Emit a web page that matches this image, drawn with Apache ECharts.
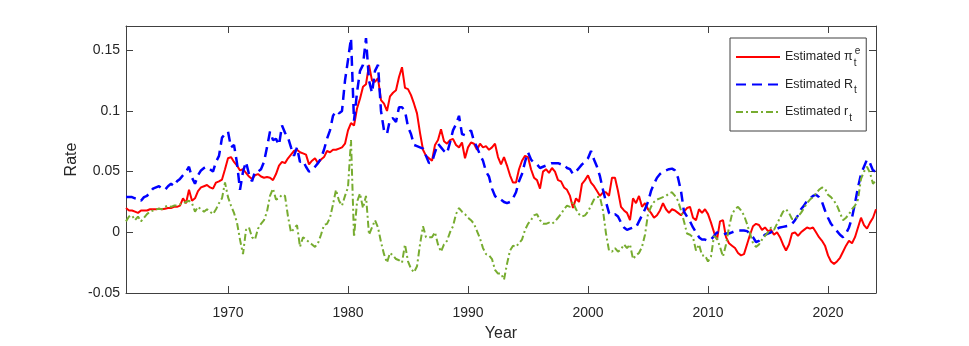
<!DOCTYPE html>
<html>
<head>
<meta charset="utf-8">
<script src="https://cdn.jsdelivr.net/npm/echarts@6/dist/echarts.min.js"></script>
<style>
  html, body { margin: 0; padding: 0; background: #fff; }
  #chart { width: 969px; height: 346px; }
</style>
</head>
<body>
<div id="chart"></div>
<script>
// quarterly samples, 1961.5 .. 2024.0
var startYear = 1961.5
var step = 0.25

// estimated pi_t^e
var inflation = [
    0.020, 0.018,
    0.018, 0.017, 0.016, 0.018,
    0.018, 0.018, 0.019, 0.019,
    0.019, 0.0195, 0.019, 0.0195,
    0.020, 0.020, 0.021, 0.021,
    0.022, 0.028, 0.024, 0.035,
    0.026, 0.028, 0.034, 0.037,
    0.038, 0.039, 0.037, 0.036,
    0.041, 0.042, 0.0435, 0.052,
    0.061, 0.062, 0.058, 0.055,
    0.051, 0.052, 0.049, 0.046,
    0.044, 0.047, 0.048, 0.046,
    0.045, 0.0455, 0.045, 0.043,
    0.048, 0.055, 0.058, 0.057,
    0.061, 0.064, 0.067, 0.068,
    0.066, 0.065, 0.064, 0.056,
    0.059, 0.061, 0.057, 0.060,
    0.062, 0.067, 0.066, 0.068,
    0.068, 0.069, 0.070, 0.073,
    0.084, 0.090, 0.088, 0.102,
    0.110, 0.120, 0.122, 0.138,
    0.125, 0.124, 0.127, 0.109,
    0.106, 0.100, 0.112, 0.115,
    0.117, 0.128, 0.136, 0.119,
    0.118, 0.113, 0.106, 0.098,
    0.082, 0.068, 0.063, 0.061,
    0.059, 0.072, 0.076, 0.085,
    0.075, 0.073, 0.076, 0.077,
    0.072, 0.070, 0.074, 0.061,
    0.070, 0.074, 0.073, 0.068,
    0.073, 0.070, 0.071, 0.068,
    0.070, 0.073, 0.062, 0.056,
    0.062, 0.055, 0.047, 0.041,
    0.041, 0.052, 0.059, 0.063,
    0.062, 0.052, 0.045, 0.043,
    0.036, 0.050, 0.052, 0.049,
    0.053, 0.050, 0.043, 0.042,
    0.037, 0.035, 0.030, 0.020,
    0.028, 0.025, 0.040, 0.043,
    0.047, 0.041, 0.038, 0.034,
    0.030, 0.033, 0.033, 0.030,
    0.045, 0.045, 0.034, 0.021,
    0.018, 0.016, 0.010, 0.028,
    0.024, 0.030, 0.021, 0.024,
    0.019, 0.016, 0.012, 0.014,
    0.018, 0.024, 0.019, 0.016,
    0.019, 0.018, 0.016, 0.014,
    0.017, 0.020, 0.021, 0.012,
    0.010, 0.019, 0.016, 0.019,
    0.015, 0.008, 0.000, -0.006,
    0.009, 0.010, -0.004, -0.009,
    -0.011, -0.013, -0.017, -0.019,
    -0.018, -0.010, -0.002, 0.005,
    0.007, 0.006, 0.002, 0.004,
    0.001, 0.002, -0.002, 0.000,
    -0.004, -0.010, -0.015, -0.010,
    -0.001, 0.000, -0.003, 0.000,
    0.002, 0.004, 0.003, 0.004,
    0.000, -0.004, -0.007, -0.011,
    -0.019, -0.024, -0.026, -0.024,
    -0.021, -0.016, -0.011, -0.007,
    -0.009, -0.004, 0.004, 0.012,
    0.006, 0.003, 0.008, 0.012,
    0.019
]

// estimated R_t
var nominalRate = [
    0.029, 0.029,
    0.029, 0.028, 0.028, 0.026,
    0.029, 0.030, 0.033, 0.036,
    0.037, 0.038, 0.036, 0.035,
    0.038, 0.040, 0.038, 0.042,
    0.044, 0.047, 0.050, 0.054,
    0.045, 0.040, 0.047, 0.051,
    0.053, 0.054, 0.052, 0.050,
    0.058, 0.063, 0.078, 0.081,
    0.083, 0.070, 0.072, 0.057,
    0.035, 0.050, 0.058, 0.048,
    0.042, 0.050, 0.050, 0.052,
    0.058, 0.070, 0.083, 0.076,
    0.077, 0.072, 0.088, 0.082,
    0.078, 0.070, 0.063, 0.070,
    0.058, 0.059, 0.054, 0.050,
    0.051, 0.054, 0.057, 0.061,
    0.068, 0.077, 0.084, 0.096,
    0.100, 0.098, 0.100, 0.125,
    0.142, 0.160, 0.092, 0.115,
    0.133, 0.138, 0.160, 0.125,
    0.115, 0.133, 0.138, 0.100,
    0.084, 0.081, 0.093, 0.094,
    0.091, 0.103, 0.103, 0.100,
    0.087, 0.081, 0.072, 0.071,
    0.070, 0.069, 0.063, 0.057,
    0.058, 0.066, 0.073, 0.070,
    0.067, 0.065, 0.074, 0.084,
    0.089, 0.096, 0.081, 0.080,
    0.082, 0.084, 0.075, 0.070,
    0.064, 0.059, 0.050, 0.046,
    0.036, 0.030, 0.027, 0.027,
    0.025, 0.024, 0.025, 0.028,
    0.033, 0.042, 0.048, 0.058,
    0.066, 0.060, 0.057, 0.056,
    0.053, 0.054, 0.055, 0.056,
    0.057, 0.057, 0.057, 0.056,
    0.056, 0.053, 0.052, 0.048,
    0.050, 0.053, 0.056, 0.058,
    0.061, 0.067, 0.060, 0.054,
    0.046, 0.035, 0.025, 0.016,
    0.014, 0.015, 0.013, 0.008,
    0.004, 0.002, 0.003, 0.004,
    0.004, 0.009, 0.014, 0.019,
    0.025, 0.034, 0.040, 0.045,
    0.048, 0.050, 0.051, 0.052,
    0.0525, 0.051, 0.045, 0.034,
    0.017, 0.013, 0.009, 0.004,
    0.000, -0.004, -0.006, -0.006,
    -0.007, -0.006, -0.003, 0.000,
    -0.001, -0.002, -0.001, -0.001,
    0.000, 0.001, 0.0015, 0.0015,
    0.0015, 0.001, -0.001, -0.004,
    -0.008, -0.007, -0.004, -0.002,
    -0.001, 0.000, 0.002, 0.003,
    0.004, 0.0045, 0.005, 0.0055,
    0.007, 0.010, 0.014, 0.019,
    0.022, 0.026, 0.028, 0.030,
    0.031, 0.029, 0.025, 0.018,
    0.012, 0.007, 0.004, 0.001,
    -0.002, -0.004, -0.001, 0.004,
    0.012, 0.024, 0.037, 0.048,
    0.054, 0.060, 0.057, 0.051,
    0.050
]

// estimated r_t
var realRate = [
    0.009, 0.013,
    0.014, 0.010, 0.013, 0.009,
    0.012, 0.015, 0.017, 0.018,
    0.019, 0.0195, 0.019, 0.021,
    0.022, 0.021, 0.022, 0.022,
    0.023, 0.024, 0.025, 0.026,
    0.024, 0.017, 0.021, 0.019,
    0.017, 0.019, 0.017, 0.015,
    0.019, 0.024, 0.028, 0.041,
    0.029, 0.022, 0.016, 0.008,
    -0.006, -0.018, 0.002, 0.004,
    -0.004, -0.006, 0.003, 0.007,
    0.010, 0.017, 0.030, 0.036,
    0.027, 0.028, 0.031, 0.030,
    0.013, 0.000, 0.003, 0.006,
    -0.012, -0.004, -0.006, -0.008,
    -0.010, -0.012, -0.009, -0.002,
    0.006, 0.007, 0.012, 0.023,
    0.035, 0.026, 0.022, 0.030,
    0.037, 0.076, -0.004, 0.025,
    0.032, 0.020, 0.030, -0.002,
    0.004, 0.010, 0.004, -0.008,
    -0.018, -0.025, -0.017, -0.019,
    -0.022, -0.023, -0.025, -0.010,
    -0.024, -0.030, -0.033, -0.028,
    -0.010, 0.005, -0.004, -0.004,
    -0.004, 0.000, -0.010, -0.016,
    -0.010, -0.007, 0.000, 0.005,
    0.015, 0.020, 0.017, 0.015,
    0.012, 0.010, 0.007, 0.001,
    -0.005, -0.013, -0.018, -0.019,
    -0.022, -0.031, -0.034, -0.034,
    -0.039, -0.026, -0.015, -0.011,
    -0.012, -0.009, -0.006, 0.002,
    0.007, 0.010, 0.014, 0.015,
    0.010, 0.007, 0.007, 0.008,
    0.007, 0.009, 0.012, 0.015,
    0.019, 0.022, 0.021, 0.025,
    0.019, 0.015, 0.013, 0.014,
    0.017, 0.022, 0.027, 0.029,
    0.029, 0.018, -0.001, -0.015,
    -0.016, -0.013, -0.016, -0.014,
    -0.010, -0.013, -0.010, -0.022,
    -0.019, -0.017, -0.012, -0.002,
    0.015, 0.021, 0.025, 0.027,
    0.028, 0.029, 0.030, 0.032,
    0.033, 0.030, 0.026, 0.018,
    0.009, -0.001, -0.002, -0.004,
    -0.015, -0.010, -0.019, -0.019,
    -0.024, -0.020, -0.003, -0.005,
    -0.012, -0.020, -0.010, 0.004,
    0.015, 0.019, 0.021, 0.018,
    0.014, 0.007, -0.001, -0.009,
    -0.012, -0.010, -0.006, -0.003,
    0.000, 0.004, 0.002, 0.007,
    0.012, 0.017, 0.019, 0.016,
    0.011, 0.011, 0.013, 0.016,
    0.020, 0.024, 0.027, 0.029,
    0.032, 0.035, 0.037, 0.036,
    0.031, 0.029, 0.026, 0.022,
    0.016, 0.010, 0.012, 0.015,
    0.019, 0.022, 0.027, 0.044,
    0.050, 0.054, 0.049, 0.040,
    0.043
]

var xTicks = [1970, 1980, 1990, 2000, 2010, 2020]
var yTicks = [-0.05, 0, 0.05, 0.1, 0.15]

var seriesNames = ['Estimated πe', 'Estimated R', 'Estimated r']

function pairs(values) {
    var out = []
    for (var i = 0; i < values.length; i++) {
        out.push([startYear + i * step, values[i]])
    }
    return out
}

var axisColor = '#404040'
var font = 'Liberation Sans, Arial, Helvetica, sans-serif'

var chart = echarts.init(document.getElementById('chart'), null, { renderer: 'canvas' })

chart.setOption({
    animation: false,
    backgroundColor: '#fff',
    textStyle: { fontFamily: font },
    grid: {
        left: 126,
        top: 26,
        width: 750,
        height: 267,
        outerBoundsMode: 'none'
    },
    legend: {
        orient: 'vertical',
        left: 730,
        top: 38,
        padding: [8, 6, 8, 5],
        itemGap: 10,
        itemWidth: 44,
        itemHeight: 14,
        borderColor: axisColor,
        borderWidth: 1,
        backgroundColor: '#fff',
        itemStyle: { opacity: 0 },
        data: seriesNames,
        formatter: function (name) {
            if (name === seriesNames[0]) return '{a|Estimated π}{sub0|t}{sup|e}'
            if (name === seriesNames[1]) return '{a|Estimated R}{sub|t}'
            return '{a|Estimated r}{sub|t}'
        },
        textStyle: {
            color: '#262626',
            fontFamily: font,
            rich: {
                a: { fontSize: 12.5, lineHeight: 22, fontFamily: font, color: '#262626', verticalAlign: 'middle' },
                sub: { fontSize: 10, lineHeight: 10, fontFamily: font, color: '#262626', verticalAlign: 'bottom', padding: [0, 0, 0, 1] },
                sub0: { fontSize: 10, lineHeight: 10, width: 0, fontFamily: font, color: '#262626', verticalAlign: 'bottom', padding: [0, 0, 0, 1] },
                sup: { fontSize: 10, lineHeight: 10, fontFamily: font, color: '#262626', verticalAlign: 'top', padding: [0, 0, 0, 1] }
            }
        }
    },
    xAxis: [
        {
            type: 'value',
            min: 1961.5,
            max: 2024,
            name: 'Year',
            nameLocation: 'middle',
            nameGap: 33,
            nameMoveOverlap: false,
            nameTextStyle: { fontSize: 16, color: '#262626', fontFamily: font },
            axisLine: { show: true, onZero: false, lineStyle: { color: axisColor, width: 1 } },
            axisTick: { show: true, inside: true, length: 7, customValues: xTicks, lineStyle: { color: axisColor } },
            axisLabel: {
                customValues: xTicks,
                fontSize: 14,
                color: '#262626',
                margin: 13,
                fontFamily: font,
                formatter: function (v) { return String(v) }
            },
            splitLine: { show: false }
        },
        {
            type: 'value',
            position: 'top',
            min: 1961.5,
            max: 2024,
            axisLine: { show: true, onZero: false, lineStyle: { color: axisColor, width: 1 } },
            axisTick: { show: true, inside: true, length: 7, customValues: xTicks, lineStyle: { color: axisColor } },
            axisLabel: { show: false, customValues: xTicks },
            splitLine: { show: false }
        }
    ],
    yAxis: [
        {
            type: 'value',
            min: -0.05,
            max: 0.17,
            name: 'Rate',
            nameLocation: 'middle',
            nameGap: 46,
            nameMoveOverlap: false,
            nameTextStyle: { fontSize: 16, color: '#262626', fontFamily: font },
            axisLine: { show: true, onZero: false, lineStyle: { color: axisColor, width: 1 } },
            axisTick: { show: true, inside: true, length: 7, customValues: yTicks, lineStyle: { color: axisColor } },
            axisLabel: {
                customValues: yTicks,
                fontSize: 14,
                color: '#262626',
                margin: 6,
                fontFamily: font,
                formatter: function (v) { return String(Math.round(v * 100) / 100) }
            },
            splitLine: { show: false }
        },
        {
            type: 'value',
            position: 'right',
            min: -0.05,
            max: 0.17,
            axisLine: { show: true, onZero: false, lineStyle: { color: axisColor, width: 1 } },
            axisTick: { show: true, inside: true, length: 7, customValues: yTicks, lineStyle: { color: axisColor } },
            axisLabel: { show: false, customValues: yTicks },
            splitLine: { show: false }
        }
    ],
    series: [
        {
            name: seriesNames[0],
            type: 'line',
            symbol: 'none',
            data: pairs(inflation),
            lineStyle: { color: '#ff0000', width: 2 },
            itemStyle: { color: '#ff0000' }
        },
        {
            name: seriesNames[1],
            type: 'line',
            symbol: 'none',
            data: pairs(nominalRate),
            lineStyle: { color: '#0000ff', width: 2.5, type: [10, 6] },
            itemStyle: { color: '#0000ff' }
        },
        {
            name: seriesNames[2],
            type: 'line',
            symbol: 'none',
            data: pairs(realRate),
            lineStyle: { color: '#77ac30', width: 2, type: [7, 3, 2, 3] },
            itemStyle: { color: '#77ac30' }
        }
    ]
})
</script>
</body>
</html>
